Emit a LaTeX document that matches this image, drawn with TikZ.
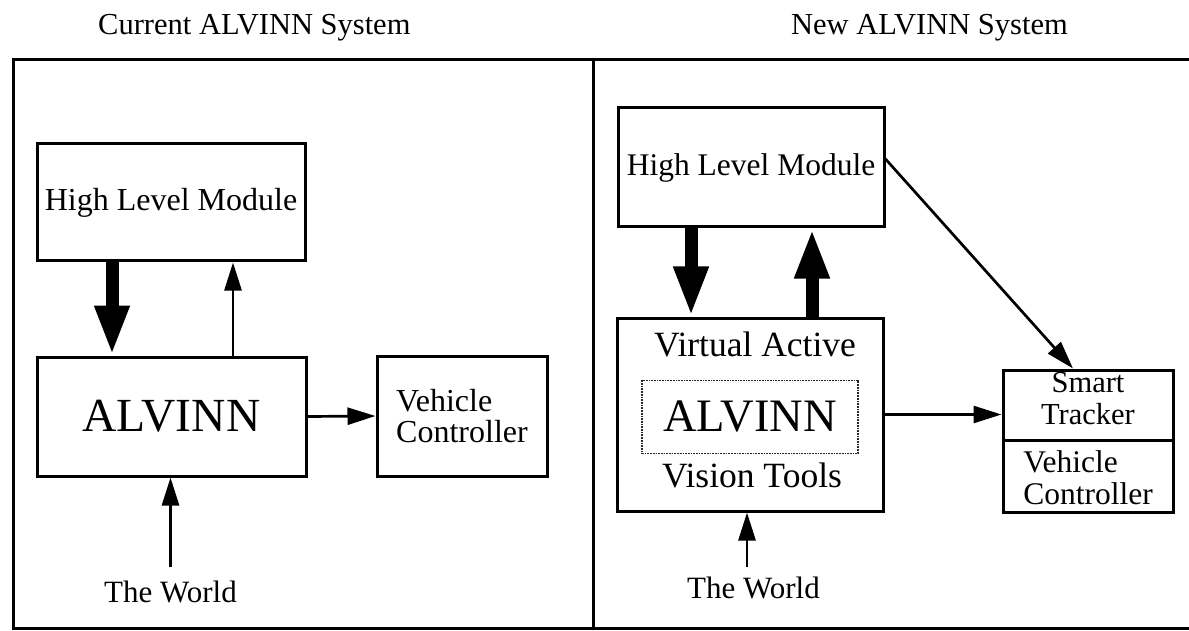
\documentclass[tikz,border=0pt]{standalone}
\usepackage{fontspec}
\setmainfont{Liberation Serif}
\usetikzlibrary{positioning}
\usetikzlibrary{arrows.meta}
\usetikzlibrary{calc}
\tikzstyle{frame}=[draw,line width=3pt]
\tikzstyle{module}=[draw,line width=3pt,inner sep=0pt,align=left,font=\fontsize{32}{31}\selectfont]
\tikzstyle{bigname}=[font=\fontsize{47.5}{48}\selectfont]
\tikzstyle{innerbox}=[draw=black!85,densely dotted,line width=1.7pt,inner sep=0pt,font=\fontsize{46.5}{47}\selectfont]
\tikzstyle{toolname}=[inner sep=0pt,font=\fontsize{35.5}{36}\selectfont]
\tikzstyle{caption}=[inner sep=0pt,font=\fontsize{30.5}{31}\selectfont]
\tikzstyle{world}=[inner sep=0pt,font=\fontsize{31}{31}\selectfont]
\tikzstyle{edge} = [draw,line width=2.7pt,-{Triangle[length=28pt,width=17pt]}]
\tikzstyle{thickedge} = [draw,line width=13pt,-{Triangle[length=50pt,width=32pt]}]

\begin{document}
\begin{tikzpicture}[x=1pt,y=-1pt]
\useasboundingbox (0,0) rectangle (1189,631);

    % outer frame and the two titles
    \draw[frame] (1189,60) -- (13,60) -- (13,628) -- (1189,628);
    \draw[frame] (593,60) -- (593,628);
    \node[caption,anchor=base west] (titleL) at (98,35) {Current ALVINN System};
    \node[caption,anchor=base east] (titleR) at (1068,35) {New ALVINN System};

    % Current system
    \foreach \pos/\name/\w/\h/\label in {{(171,202.5)/hlmL/268/117/High Level Module}, {(462,416)/vcL/170/120/Vehicle\\Controller}}
        \node[module,minimum width=\w pt,minimum height=\h pt] (\name) at \pos {\label};
    \node[module,bigname,minimum width=269pt,minimum height=119pt] (alvL) at (171.5,416.5) {ALVINN};
    \node[world,anchor=base] (worldL) at (170.5,602) {The World};

    \path[thickedge] ($(hlmL.south)+(-59,0)$) -- ($(alvL.north)+(-59.5,0)$);
    \path[edge] ($(alvL.north)+(61.5,0)$) -- ($(hlmL.south)+(62,0)$);
    \path[edge] (alvL.east) -- (vcL.west);
    \path[edge,shorten <=13pt] (worldL.north) -- (worldL.north |- alvL.south);

    % New system
    \node[module,font=\fontsize{31.5}{31}\selectfont,minimum width=266pt,minimum height=119pt] (hlmR) at (751,167.5) {High Level Module};
    \node[module,minimum width=266pt,minimum height=193pt] (vavt) at (750,414.5) {};
    \node[toolname,anchor=base] (virt) at (755,356) {Virtual Active};
    \node[innerbox,minimum width=216pt,minimum height=73pt] (alvR) at (750,417) {ALVINN};
    \node[toolname,anchor=base] (tools) at (752,487.5) {Vision Tools};

    \node[module,minimum width=170pt,minimum height=70pt] (st) at (1088,405) {};
    \node[module,minimum width=170pt,minimum height=72pt] (vcR) at (1088,476) {};
    \node[inner sep=0pt,align=center,font=\fontsize{30.5}{32}\selectfont] (sttext) at (1088,399) {Smart\\Tracker};
    \node[inner sep=0pt,align=left,font=\fontsize{31.5}{32}\selectfont] (vctext) at (1088,478) {Vehicle\\Controller};
    \node[world,anchor=base] (worldR) at (753.5,598) {The World};

    \path[thickedge] ($(hlmR.south)+(-60,0)$) -- ($(vavt.north)+(-59,0)$);
    \path[thickedge] ($(vavt.north)+(62,0)$) -- ($(hlmR.south)+(61,0)$);
    \path[edge] ($(hlmR.east)+(0,-8.5)$) -- ($(st.north)+(-15,0)$);
    \path[edge] (vavt.east) -- (vavt.east -| st.west);
    \path[edge,shorten <=9pt] ($(worldR.north)+(-6.5,0)$) -- ($(vavt.south)+(-3,0)$);

\end{tikzpicture}
\end{document}
